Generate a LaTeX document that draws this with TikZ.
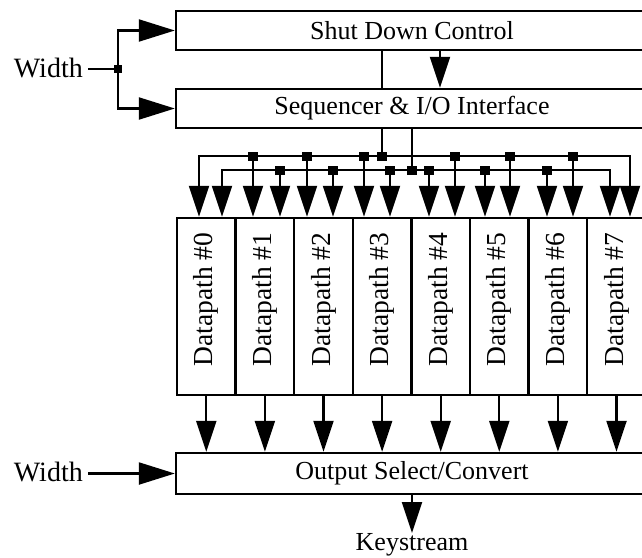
\documentclass[tikz,border=0pt]{standalone}
\usepackage{fontspec}
\setmainfont{Liberation Serif}
\usetikzlibrary{arrows.meta}
\begin{document}
\begin{tikzpicture}[x=1pt,y=-1pt,
  box/.style={draw, line width=2.4pt, inner sep=0pt, font=\fontsize{26}{30}\selectfont},
  wire/.style={line width=2.2pt},
  arr/.style={wire, -{Triangle[length=31pt,width=20pt]}},
  bigarr/.style={wire, -{Triangle[length=36pt,width=22pt]}},
  jdot/.style={fill, rectangle, minimum width=10pt, minimum height=9pt, inner sep=0pt},
  lbl/.style={font=\fontsize{26}{30}\selectfont, inner sep=0pt},
  dplbl/.style={font=\fontsize{27.5}{30}\selectfont, inner sep=0pt},
  wlbl/.style={font=\fontsize{28}{30}\selectfont, inner sep=0pt}]
\useasboundingbox (0,0) rectangle (642,557);
\clip (0,0) rectangle (642,557);

% main boxes
\node[box, minimum width=472pt, minimum height=39pt] (sdc) at (412,30.5) {Shut Down Control};
\node[box, minimum width=472pt, minimum height=39pt] (seq) at (412,108.5) {Sequencer \& I/O Interface};
\node[box, minimum width=472pt, minimum height=41pt] (out) at (412,473.5) {Output Select/Convert};

% datapaths
\foreach \i in {0,...,7}{
  \node[box, minimum width=58.6pt, minimum height=177pt] (dp\i) at ({206.3+58.6*\i},306.5) {};
  \node[dplbl, rotate=90] (dpt\i) at ([yshift=7pt]dp\i.center) {Datapath \#\i};
  \draw[arr] (dp\i.south) -- (dp\i.south |- out.north);
}

% width inputs
\node[wlbl, anchor=east] (w1) at (83,68) {Width};
\coordinate (wj) at (118,69);
\draw[wire] ([xshift=5pt]w1.east |- wj) -- (wj);
\draw[bigarr] (wj) |- (sdc.west);
\draw[bigarr] (wj) |- (seq.west);
\node[jdot, minimum width=8pt, minimum height=8pt] (wjd) at (wj) {};

\node[wlbl, anchor=east] (w2) at (83,472) {Width};
\coordinate (w2s) at (88,473.5);
\draw[bigarr] (w2s) -- (out.west);

% shut down <-> sequencer
\draw[wire] ([xshift=-30pt]sdc.south) -- ([xshift=-30pt]seq.north);
\draw[arr] ([xshift=28pt]sdc.south) -- ([xshift=28pt]seq.north);

% buses
\coordinate (ub) at (382,156);
\coordinate (lb) at (412,170);
\coordinate (ubL) at (199,156);
\coordinate (ubR) at (630,156);
\coordinate (lbL) at (222,170);
\coordinate (lbR) at (610,170);
\draw[wire] ([xshift=-30pt]seq.south) -- (ub);
\draw[wire] (seq.south) -- (lb);
\draw[arr] (ubR) -- (ubL) -- (ubL |- dp0.north);
\draw[arr] (ubL) -- (ubR) -- (ubR |- dp7.north);
\draw[arr] (lbR) -- (lbL) -- (lbL |- dp0.north);
\draw[arr] (lbL) -- (lbR) -- (lbR |- dp7.north);
\foreach \x [count=\k] in {253,307,364,455,510,573}{
  \coordinate (u\k) at (\x,156);
  \draw[arr] (u\k) -- (u\k |- dp0.north);
}
\foreach \x [count=\k] in {280,333,390,429,485,547}{
  \coordinate (l\k) at (\x,170);
  \draw[arr] (l\k) -- (l\k |- dp0.north);
}
\foreach \k in {1,...,6}{
  \node[jdot] (ud\k) at (u\k) {};
  \node[jdot] (ld\k) at (l\k) {};
}
\node[jdot] (ubd) at (ub) {};
\node[jdot] (lbd) at (lb) {};

% keystream
\node[lbl, anchor=north] (ks) at (412,533) {Keystream};
\draw[arr] (out.south) -- (ks.north);
\end{tikzpicture}
\end{document}
